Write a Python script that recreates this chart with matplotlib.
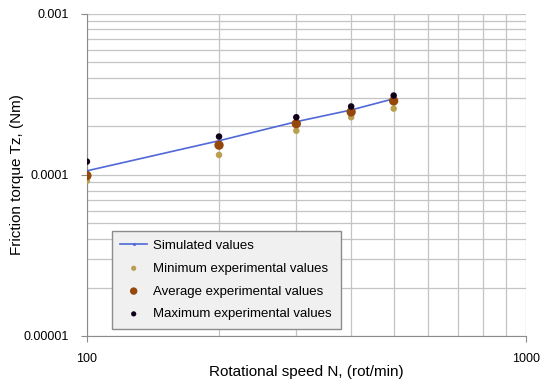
import matplotlib
matplotlib.use("Agg")
import matplotlib.pyplot as plt
from matplotlib.ticker import FixedLocator, FixedFormatter, NullFormatter, LogLocator

plt.rcParams['font.family'] = ['Liberation Sans', 'DejaVu Sans']

speed = [100, 200, 300, 400, 500]
simulated = [1.06e-4, 1.63e-4, 2.14e-4, 2.53e-4, 2.97e-4]
minimum = [0.92e-4, 1.33e-4, 1.88e-4, 2.28e-4, 2.58e-4]
average = [0.99e-4, 1.53e-4, 2.08e-4, 2.46e-4, 2.88e-4]
maximum = [1.21e-4, 1.73e-4, 2.28e-4, 2.66e-4, 3.11e-4]

y_ticks = [1e-5, 1e-4, 1e-3]
y_labels = ['0.00001', '0.0001', '0.001']
x_ticks = [100, 1000]
x_labels = ['100', '1000']

fig = plt.figure(figsize=(5.5, 3.84), dpi=100)
ax = fig.add_axes([0.158, 0.125, 0.798, 0.839])

ax.plot(speed, simulated, color='#5068d8', lw=1.2, marker='.', ms=3, label='Simulated values', zorder=3)
ax.scatter(speed, minimum, s=22, color='#b8a050', edgecolors='none', label='Minimum experimental values', zorder=4)
ax.scatter(speed, average, s=45, color='#94480c', edgecolors='none', label='Average experimental values', zorder=5)
ax.scatter(speed, maximum, s=22, color='#10001a', edgecolors='none', label='Maximum experimental values', zorder=6)

ax.set_xscale('log')
ax.set_yscale('log')
ax.set_xlim(100, 1000)
ax.set_ylim(1e-5, 1e-3)

ax.xaxis.set_major_locator(FixedLocator(x_ticks))
ax.xaxis.set_major_formatter(FixedFormatter(x_labels))
ax.xaxis.set_minor_locator(LogLocator(base=10, subs=range(2, 10)))
ax.xaxis.set_minor_formatter(NullFormatter())
ax.yaxis.set_major_locator(FixedLocator(y_ticks))
ax.yaxis.set_major_formatter(FixedFormatter(y_labels))
ax.yaxis.set_minor_locator(LogLocator(base=10, subs=range(2, 10)))
ax.yaxis.set_minor_formatter(NullFormatter())

ax.grid(which='both', color='#c4c4c4', lw=0.9)
ax.set_axisbelow(True)
for s in ['top', 'right']:
    ax.spines[s].set_visible(False)
for s in ['left', 'bottom']:
    ax.spines[s].set_color('#8c8c8c')
ax.tick_params(which='major', length=4, color='#8c8c8c', labelsize=9)
ax.tick_params(which='minor', length=0)
ax.tick_params(axis='x', pad=8)
ax.tick_params(axis='y', pad=9)

ax.set_xlabel('Rotational speed N, (rot/min)', fontsize=11, labelpad=0)
ax.set_ylabel('Friction torque Tz, (Nm)', fontsize=11)
ax.yaxis.set_label_coords(-0.1435, 0.5)

leg = ax.legend(loc='lower left', bbox_to_anchor=(0.057, 0.022), borderaxespad=0,
                fontsize=9.5, labelspacing=0.8, frameon=True, fancybox=False,
                handlelength=2.0, handletextpad=0.5, borderpad=0.65, markerscale=0.8)
leg.get_frame().set_facecolor('#f0f0f0')
leg.get_frame().set_edgecolor('#8c8c8c')
leg.get_frame().set_alpha(1)

fig.savefig('out.png', dpi=100)
